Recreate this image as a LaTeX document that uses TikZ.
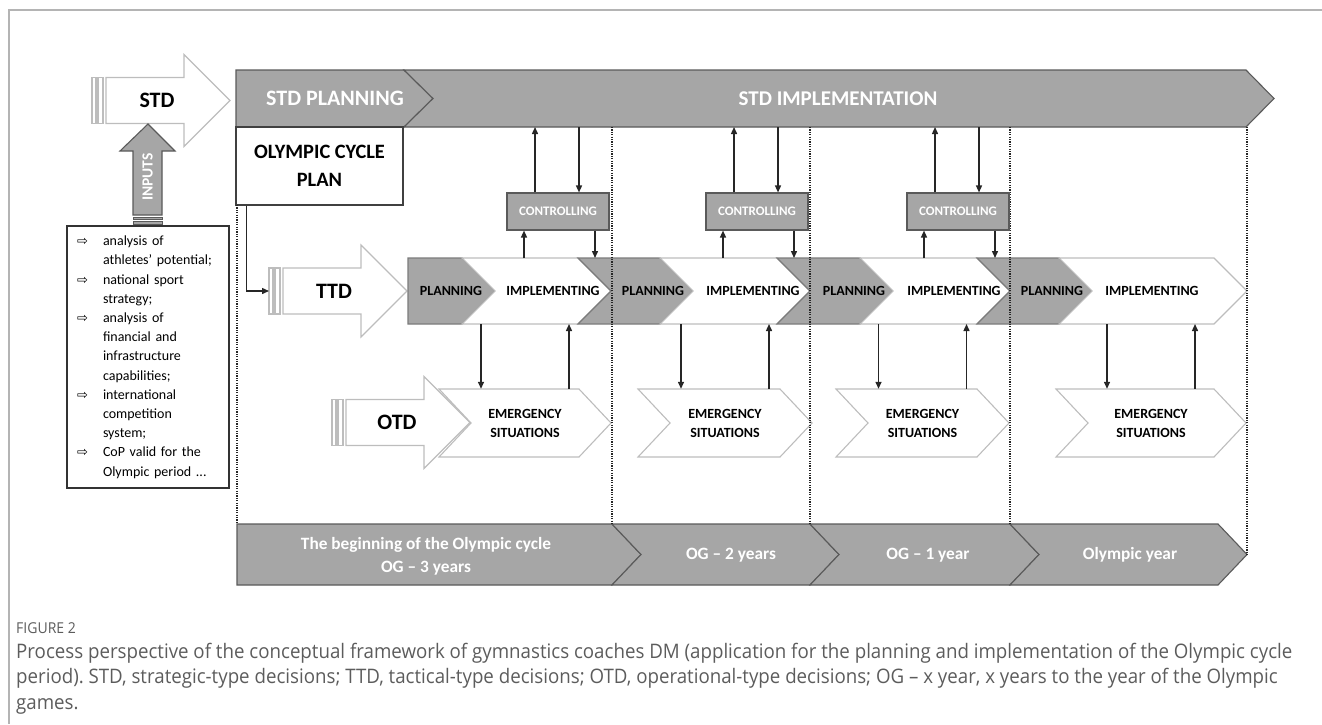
\documentclass[tikz,border=0pt]{standalone}
\usepackage{fontspec}
\setmainfont{Carlito}
\newfontfamily\arrowsym{DejaVu Sans}
\newfontfamily\captionfont[FakeStretch=0.935]{Open Sans}
\usetikzlibrary{arrows.meta, positioning, calc}
\frenchspacing

\definecolor{bandgray}{HTML}{A6A6A6}
\definecolor{edgegray}{HTML}{5A5A5A}
\definecolor{palegray}{HTML}{BDBDBD}
\definecolor{textgray}{HTML}{5C5C5C}
\definecolor{framegray}{HTML}{B4B4B4}

\newcommand{\inarrow}{{\arrowsym\fontsize{13}{13}\selectfont ⇨}}

% striped block arrow: name, tail x, middle y, label
\newcommand{\stripedarrow}[4]{%
  \draw[paleline] (#2,#3-23) rectangle ++(4,46);
  \draw[paleline] (#2+6,#3-23) rectangle ++(5,46);
  \draw[paleline, fill=white] (#2+14,#3-23) -- (#2+92,#3-23) -- (#2+92,#3-46)
    -- (#2+138,#3) -- (#2+92,#3+46) -- (#2+92,#3+23) -- (#2+14,#3+23) -- cycle;
  \node[sidelabel] (#1) at (#2+65,#3) {#4};
  \coordinate (#1tail) at (#2,#3);
}

\begin{document}
\begin{tikzpicture}[x=1pt, y=-1pt,
    >={Triangle[length=7pt, width=6pt]},
    paleline/.style={draw=palegray, line width=1.1pt},
    grayshape/.style={fill=bandgray, draw=edgegray, line width=1.1pt},
    ttdgray/.style={fill=bandgray, draw=edgegray!80, line width=1.1pt},
    ttdwhite/.style={fill=white, draw=palegray, line width=1.1pt},
    sidelabel/.style={font=\bfseries\fontsize{22}{24}\selectfont},
    bandtext/.style={text=white, font=\bfseries\fontsize{21}{24}\selectfont},
    yeartext/.style={text=white, align=center, font=\bfseries\fontsize{17.3}{23}\selectfont},
    stagetext/.style={inner sep=0, minimum height=66pt, font=\bfseries\fontsize{14}{16}\selectfont},
    emtext/.style={align=center, inner sep=0, minimum height=68pt, font=\bfseries\fontsize{14}{19}\selectfont},
    ctrlbox/.style={grayshape, text=white, minimum width=102pt, minimum height=37pt, inner sep=0,
      font=\bfseries\fontsize{13}{14}\selectfont},
    planbox/.style={draw=black!75, fill=white, line width=1.1pt, minimum width=167pt, minimum height=78pt,
      align=center, inner sep=0, font=\bfseries\fontsize{20.4}{28}\selectfont},
    listbox/.style={draw=black!80, fill=white, line width=1.1pt, text width=142pt, minimum height=262pt,
      inner xsep=10pt, inner ysep=0pt, align=left, font=\fontsize{14}{19.2}\selectfont},
    divider/.style={draw=black!85, line width=1.2pt, dash pattern=on 1.2pt off 1.2pt},
    link/.style={->, draw=black!85, line width=1.4pt},
    caption/.style={anchor=base west, inner sep=0, text=textgray, font=\captionfont\fontsize{20}{25}\selectfont}
  ]
  \useasboundingbox (0,0) rectangle (1322,724);
  \draw[framegray, line width=1.2pt] (1322,10) -- (9,10) -- (9,724);

  % strategic band
  \draw[grayshape] (236,70) -- (404,70) -- (433,98.5) -- (404,127) -- (236,127) -- cycle;
  \draw[grayshape] (404,70) -- (1246,70) -- (1274,98.5) -- (1246,127) -- (404,127) -- (433,98.5) -- cycle;
  \node[bandtext, font=\bfseries\fontsize{22}{24}\selectfont] (stdplan) at (335,98.5) {STD PLANNING};
  \node[bandtext] (stdimpl) at (838,98.5) {STD IMPLEMENTATION};
  \coordinate (stdbottom) at (0,127);

  \node[planbox] (ocp) at (319.5,166) {OLYMPIC CYCLE\\PLAN};

  % years
  \draw[grayshape] (237,524) -- (612,524) -- (641,554.5) -- (612,585) -- (237,585) -- cycle;
  \foreach \a/\b in {612/810, 810/1010, 1010/1218}
    \draw[grayshape] (\a,524) -- (\b,524) -- (\b+29,554.5) -- (\b,585) -- (\a,585) -- (\a+29,554.5) -- cycle;
  \node[yeartext] (og3) at (426,556) {The beginning of the Olympic cycle\\OG – 3 years};
  \node[yeartext] (og2) at (731,555) {OG – 2 years};
  \node[yeartext] (og1) at (928,555) {OG – 1 year};
  \node[yeartext] (ogy) at (1130,555) {Olympic year};

  % tactical band
  \stripedarrow{ttd}{269}{291}{TTD}
  \draw[ttdgray] (408,258) -- (462,258) -- (495,291) -- (462,324) -- (408,324) -- cycle;
  \foreach \a/\b/\s in {462/578/ttdwhite, 578/660/ttdgray, 660/777/ttdwhite, 777/860/ttdgray,
                        860/977/ttdwhite, 977/1059/ttdgray, 1059/1214/ttdwhite}
    \draw[\s] (\a,258) -- (\b,258) -- (\b+33,291) -- (\b,324) -- (\a,324) -- (\a+33,291) -- cycle;
  \foreach \i/\p/\m in {1/451/553, 2/653/753, 3/854/954, 4/1052/1152} {
    \node[stagetext] (plan\i) at (\p,291) {PLANNING};
    \node[stagetext] (impl\i) at (\m,291) {IMPLEMENTING};
  }
  \coordinate (ttdtop) at (0,258);
  \coordinate (ttdbottom) at (0,324);
  \draw[link] ([xshift=11pt]ocp.south west) |- (ttdtail);

  % operational band
  \stripedarrow{otd}{332}{422.5}{OTD}
  \foreach \i/\a/\b in {1/439/579, 2/638/780, 3/836/977, 4/1056/1214} {
    \draw[ttdwhite] (\a,389) -- (\b,389) -- (\b+32,423) -- (\b,457) -- (\a,457) -- (\a+32,423) -- cycle;
    \node[emtext] (emer\i) at ({(\a+\b+32)/2},423) {EMERGENCY\\SITUATIONS};
    \draw[link] ([xshift=-44pt]emer\i.north |- ttdbottom) -- ([xshift=-44pt]emer\i.north);
    \draw[link] ([xshift=44pt]emer\i.north) -- ([xshift=44pt]emer\i.north |- ttdbottom);
  }

  % dividers
  \draw[divider] (237,205) -- (237,524);
  \foreach \x in {612,810,1010}
    \draw[divider] (\x,127) -- (\x,524);
  \draw[divider] (1247,127) -- (1247,554.5);

  % controlling
  \foreach \i/\x in {1/558, 2/757, 3/958} {
    \node[ctrlbox] (ctrl\i) at (\x,211.5) {CONTROLLING};
    \draw[link] ([xshift=-23pt]ctrl\i.north) -- ([xshift=-23pt]ctrl\i.north |- stdbottom);
    \draw[link] ([xshift=21pt]ctrl\i.north |- stdbottom) -- ([xshift=21pt]ctrl\i.north);
    \draw[link] ([xshift=-34pt]ctrl\i.south |- ttdtop) -- ([xshift=-34pt]ctrl\i.south);
    \draw[link] ([xshift=37pt]ctrl\i.south) -- ([xshift=37pt]ctrl\i.south |- ttdtop);
  }

  % strategic arrow and inputs
  \stripedarrow{std}{92}{100.5}{STD}
  \draw[grayshape] (133,215) -- (133,151) -- (120,151) -- (148,124) -- (175,151) -- (162,151) -- (162,215) -- cycle;
  \draw[grayshape, line width=0.6pt] (133,217) rectangle (162,219.5);
  \draw[grayshape, line width=0.6pt] (133,221.5) rectangle (162,224.5);
  \node[text=white, rotate=90, font=\bfseries\fontsize{15.5}{16}\selectfont] (inlabel) at (147.5,177) {INPUTS};
  \node[listbox] (inputs) at (148,357) {%
    \begin{tabular}{@{}p{26pt}@{}l@{}}
      \inarrow & analysis of\\
               & athletes' potential;\\
      \inarrow & national sport\\
               & strategy;\\
      \inarrow & analysis of\\
               & financial and\\
               & infrastructure\\
               & capabilities;\\
      \inarrow & international\\
               & competition\\
               & system;\\
      \inarrow & CoP valid for the\\
               & Olympic period ...
    \end{tabular}};

  % caption
  \node[caption, font=\captionfont\fontsize{15}{16}\selectfont] (figno) at (16,633) {FIGURE 2};
  \node[caption] (cap1) at (16,658) {Process perspective of the conceptual framework of gymnastics coaches DM (application for the planning and implementation of the Olympic cycle};
  \node[caption] (cap2) at (16,683.5) {period). STD, strategic-type decisions; TTD, tactical-type decisions; OTD, operational-type decisions; OG – x year, x years to the year of the Olympic};
  \node[caption] (cap3) at (16,709) {games.};
\end{tikzpicture}
\end{document}
